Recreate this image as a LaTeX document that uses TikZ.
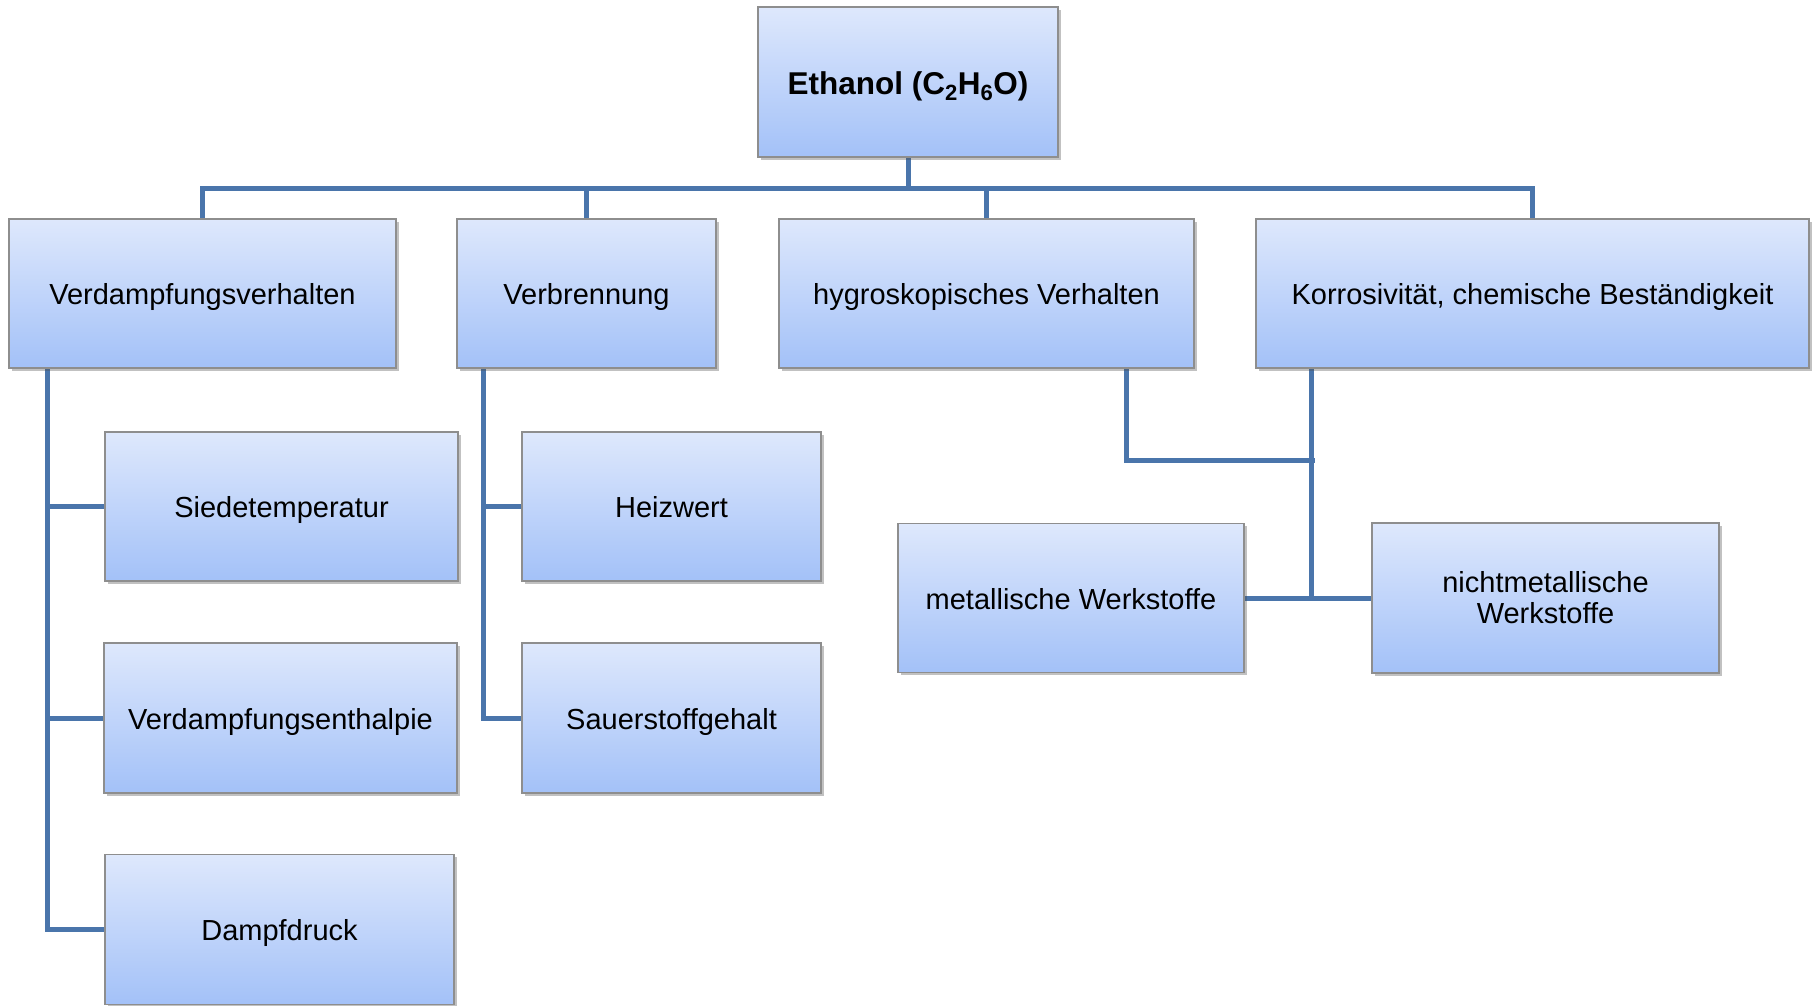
\documentclass[tikz,border=0pt]{standalone}
\usepackage{fontspec}
\setmainfont{Liberation Sans}
\usetikzlibrary{shadows,backgrounds}
\definecolor{boxtop}{HTML}{DEE8FC}
\definecolor{boxbot}{HTML}{A3C1F8}
\definecolor{boxline}{HTML}{8E8E8E}
\definecolor{conn}{HTML}{4A75AB}
\tikzset{
  orgbox/.style={rectangle, draw=boxline, line width=1.5pt, top color=boxtop, bottom color=boxbot,
    drop shadow={shadow xshift=2.5pt, shadow yshift=-2.5pt, opacity=0.35, fill=black!70},
    inner sep=0pt, align=center, font=\fontsize{29}{31}\selectfont},
  oneline/.style={text height=25pt, text depth=3pt},
  conline/.style={draw=conn, line width=5pt, line cap=rect}
}
\begin{document}
\begin{tikzpicture}[x=1pt, y=-1pt]
\useasboundingbox (0,0) rectangle (1814,1005);
\clip (0,0) rectangle (1814,1005);
% nodes
\node[orgbox, minimum width=300pt, minimum height=150pt, font=\fontsize{31.5}{33}\selectfont\bfseries, text height=28pt, text depth=4pt] (root) at (908,82) {Ethanol (C\textsubscript{2}H\textsubscript{6}O)};
\node[orgbox, oneline, minimum width=387pt, minimum height=149pt] (vv) at (202.5,293.5) {Verdampfungsverhalten};
\node[orgbox, oneline, minimum width=259pt, minimum height=149pt] (vb) at (586.5,293.5) {Verbrennung};
\node[orgbox, oneline, minimum width=415pt, minimum height=149pt] (hy) at (986.5,293.5) {hygroskopisches Verhalten};
\node[orgbox, oneline, minimum width=553pt, minimum height=149pt] (ko) at (1532.5,293.5) {Korrosivität, chemische Beständigkeit};
\node[orgbox, oneline, minimum width=353pt, minimum height=149pt] (st) at (281.5,506.5) {Siedetemperatur};
\node[orgbox, oneline, minimum width=353pt, minimum height=150pt] (ve) at (280.5,718) {Verdampfungsenthalpie};
\node[orgbox, oneline, minimum width=349pt, minimum height=150pt] (dd) at (279.5,929.5) {Dampfdruck};
\node[orgbox, oneline, minimum width=299pt, minimum height=149pt] (he) at (671.5,506.5) {Heizwert};
\node[orgbox, oneline, minimum width=299pt, minimum height=150pt] (sa) at (671.5,718) {Sauerstoffgehalt};
\node[orgbox, oneline, minimum width=346pt, minimum height=149pt] (mw) at (1071,598) {metallische Werkstoffe};
\node[orgbox, minimum width=347pt, minimum height=150pt] (nw) at (1545.5,598) {nichtmetallische\\Werkstoffe};
% coordinates
\coordinate (bar) at (0,188);
\coordinate (vvt) at ([xshift=39pt]vv.south west);
\coordinate (vbt) at ([xshift=27pt]vb.south west);
\coordinate (hyt) at ([xshift=348pt]hy.south west);
\coordinate (kot) at ([xshift=56pt]ko.south west);
\coordinate (join) at (1312,460);
% connectors
\begin{scope}[on background layer]
\draw[conline] (root.south) -- (root.south |- bar);
\draw[conline] (vv.north) |- (ko.north |- bar) -- (ko.north);
\draw[conline] (vb.north) -- (vb.north |- bar);
\draw[conline] (hy.north) -- (hy.north |- bar);
\draw[conline] (vvt) |- (dd.west);
\draw[conline] (st.west) -- (st.west -| vvt);
\draw[conline] (ve.west) -- (ve.west -| vvt);
\draw[conline] (vbt) |- (sa.west);
\draw[conline] (he.west) -- (he.west -| vbt);
\draw[conline] (hyt) |- (join);
\draw[conline] (kot) -- (kot |- mw.east);
\draw[conline] (mw.east) -- (nw.west);
\end{scope}
\end{tikzpicture}
\end{document}
